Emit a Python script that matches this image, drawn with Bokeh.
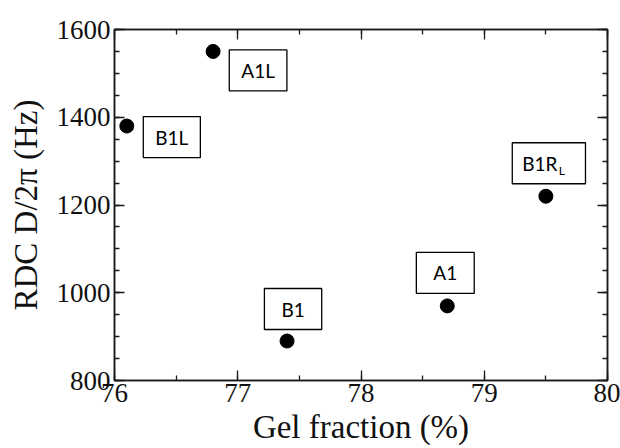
from bokeh.plotting import figure
from bokeh.models import (Label, LinearAxis, SingleIntervalTicker, Range1d,
                          CustomJSTickFormatter, ColumnDataSource)
from bokeh.embed import file_html
from bokeh.resources import INLINE

# ---- data ----
gel_fraction = [76.1, 76.8, 77.4, 78.7, 79.5]      # %
rdc = [1380, 1550, 890, 970, 1220]                  # Hz
sample_names = ["B1L", "A1L", "B1", "A1", "B1R"]
name_subscripts = ["", "", "", "", "L"]

x_tick_interval = 1
y_tick_interval = 200

# ---- label box placement (screen px offsets relative to each point) ----
box_dx = [45, 45, 6, -2, 3]
box_dy = [-11, -19, 32, 33, 33]
box_pad = [(12, 12), (12, 12), (17, 17), (17, 17), (10, 28)]
sub_dx = 13
sub_dy = -7

FONT_SERIF = "Liberation Serif"
FONT_SANS = "Lato"
INK = "#1a1a1a"

src = ColumnDataSource(dict(x=gel_fraction, y=rdc, name=sample_names))

p = figure(width=620, height=448,
           x_range=Range1d(76, 80), y_range=Range1d(800, 1600),
           output_backend="svg", toolbar_location=None,
           min_border_left=114, min_border_right=13,
           min_border_top=29, min_border_bottom=68)
p.xgrid.visible = False
p.ygrid.visible = False
p.outline_line_color = INK
p.outline_line_width = 1.5
p.background_fill_color = "white"
p.border_fill_color = "white"

def style_axis(ax, show_labels):
    ax.axis_line_color = INK
    ax.axis_line_width = 1.5
    ax.major_tick_line_color = INK
    ax.minor_tick_line_color = INK
    ax.major_tick_line_width = 1.3
    ax.minor_tick_line_width = 1.3
    ax.major_tick_in = 10
    ax.major_tick_out = 0
    ax.minor_tick_in = 5
    ax.minor_tick_out = 0
    ax.major_label_text_font = FONT_SERIF
    ax.major_label_text_font_size = "27px"
    ax.major_label_text_color = "#111111"
    ax.axis_label_text_font = FONT_SERIF
    ax.axis_label_text_font_style = "normal"
    ax.axis_label_text_font_size = "33px"
    ax.axis_label_text_color = "#111111"
    if not show_labels:
        ax.formatter = CustomJSTickFormatter(code="return ''")
        ax.major_label_standoff = 0

p.xaxis.ticker = SingleIntervalTicker(interval=x_tick_interval, num_minor_ticks=2)
p.yaxis.ticker = SingleIntervalTicker(interval=y_tick_interval, num_minor_ticks=4)
style_axis(p.xaxis[0], True)
style_axis(p.yaxis[0], True)
p.xaxis.major_label_standoff = 3
p.yaxis.major_label_standoff = 4

p.xaxis.axis_label = "Gel fraction (%)"
p.xaxis.axis_label_standoff = 4
p.yaxis.axis_label = "RDC D/2π (Hz)"
p.yaxis.axis_label_standoff = 10

top_ax = LinearAxis(ticker=SingleIntervalTicker(interval=x_tick_interval, num_minor_ticks=2))
right_ax = LinearAxis(ticker=SingleIntervalTicker(interval=y_tick_interval, num_minor_ticks=4))
style_axis(top_ax, False)
style_axis(right_ax, False)
p.add_layout(top_ax, "above")
p.add_layout(right_ax, "right")

p.scatter("x", "y", source=src, size=14, fill_color="black", line_color="black")

# sample labels in boxes
for xv, yv, nm, sub, dx, dy, (pl, pr) in zip(gel_fraction, rdc, sample_names,
                                              name_subscripts, box_dx, box_dy, box_pad):
    lab = Label(x=xv, y=yv, x_offset=dx, y_offset=dy, text=nm,
                text_align="center", text_baseline="middle",
                text_font=FONT_SANS, text_font_size="19px", text_color="black",
                background_fill_color="white", border_line_color="black",
                border_line_width=1.3,
                padding=dict(left=pl, right=pr, top=9, bottom=9))
    p.add_layout(lab)
    if sub:
        p.add_layout(Label(x=xv, y=yv, x_offset=dx + sub_dx, y_offset=dy + sub_dy, text=sub,
                           text_align="center", text_baseline="middle",
                           text_font=FONT_SANS, text_font_size="12px",
                           text_color="black"))

open("out.html", "w").write(file_html(p, INLINE))
